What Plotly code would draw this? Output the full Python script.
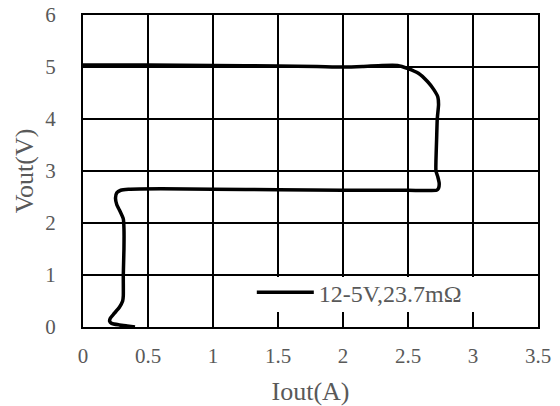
import plotly.graph_objects as go

# Output current vs. output voltage trace (12 V -> 5 V converter, 23.7 mOhm)
iout = [0.00, 0.50, 1.00, 1.50, 1.80, 2.00, 2.15, 2.30, 2.42, 2.50, 2.58, 2.65,
        2.70, 2.73, 2.735, 2.725, 2.72, 2.715, 2.715, 2.73, 2.74, 2.735, 2.72,
        2.50, 2.00, 1.50, 1.00, 0.60, 0.35, 0.29, 0.26, 0.25, 0.26, 0.28, 0.31,
        0.315, 0.315, 0.31, 0.31, 0.305, 0.28, 0.24, 0.21, 0.205, 0.22, 0.28,
        0.34, 0.40]
vout = [5.04, 5.04, 5.03, 5.02, 5.01, 5.00, 5.01, 5.03, 5.03, 4.97, 4.88, 4.72,
        4.56, 4.42, 4.28, 4.00, 3.60, 3.20, 3.00, 2.88, 2.76, 2.67, 2.63,
        2.63, 2.63, 2.64, 2.65, 2.66, 2.65, 2.63, 2.58, 2.48, 2.35, 2.25, 2.08,
        1.90, 1.50, 1.00, 0.60, 0.50, 0.38, 0.26, 0.17, 0.11, 0.07, 0.04,
        0.02, 0.00]
series_name = "12-5V,23.7mΩ"

FONT = "Liberation Serif, Times New Roman, serif"
GREY = "#595959"

fig = go.Figure()
fig.add_trace(go.Scatter(
    x=iout, y=vout, mode="lines", name=series_name,
    line=dict(color="black", width=3.5, shape="spline", smoothing=0.5),
))

axis_common = dict(
    showgrid=True, gridcolor="black", gridwidth=1.5,
    showline=True, linecolor="black", linewidth=2, mirror=True,
    zeroline=False, ticks="", ticklen=0, automargin=False,
    tickfont=dict(family=FONT, size=21, color=GREY),
)

fig.update_xaxes(range=[0, 3.5], dtick=0.5, tick0=0,
                 title=dict(text="Iout(A)", font=dict(family=FONT, size=26, color=GREY), standoff=18),
                 ticklabelstandoff=9, **axis_common)
fig.update_yaxes(range=[0, 6], dtick=1, tick0=0,
                 title=dict(text="Vout(V)", font=dict(family=FONT, size=26, color=GREY), standoff=4),
                 ticklabelstandoff=21, **axis_common)

# white panel behind the legend, hiding the grid there
fig.add_shape(type="rect", xref="paper", yref="paper",
              x0=0.3297, x1=0.868, y0=0.048, y1=0.160,
              fillcolor="white", line=dict(width=0), layer="above")

fig.update_layout(
    width=560, height=406,
    margin=dict(l=83, r=22, t=15, b=79),
    paper_bgcolor="white", plot_bgcolor="white",
    showlegend=True,
    legend=dict(
        x=0.371, y=0.11, xanchor="left", yanchor="middle",
        bgcolor="rgba(0,0,0,0)", borderwidth=0,
        font=dict(family=FONT, size=24, color=GREY),
        itemwidth=57,
    ),
)

fig.write_html("out.html")
